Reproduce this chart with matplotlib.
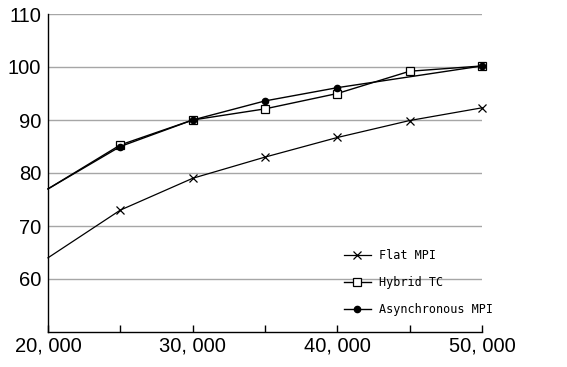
import matplotlib
matplotlib.use("Agg")
import matplotlib.pyplot as plt
from matplotlib.ticker import FixedLocator, FixedFormatter

x_all = [20000, 25000, 30000, 35000, 40000, 45000, 50000]
flat_mpi = [64.0, 73.0, 79.0, 83.0, 86.7, 89.9, 92.3]
hybrid_tc = [77.0, 85.3, 90.0, 92.1, 95.0, 99.2, 100.2]
x_async = [20000, 25000, 30000, 35000, 40000, 50000]
async_mpi = [77.0, 85.0, 90.0, 93.6, 96.1, 100.2]

x_ticks = [20000, 25000, 30000, 35000, 40000, 45000, 50000]
x_tick_labels = ["20, 000", "", "30, 000", "", "40, 000", "", "50, 000"]
y_ticks = [60, 70, 80, 90, 100, 110]

sans = ['Liberation Sans', 'DejaVu Sans']
mono = ['DejaVu Sans Mono', 'Liberation Mono']

fig = plt.figure(figsize=(5.67, 3.67), dpi=100)
ax = fig.add_axes([48/567, 1-332/367, (482-48)/567, (332-14)/367])

for y in y_ticks:
    ax.axhline(y, color='#a6a6a6', lw=1.0, zorder=0)

ax.plot(x_all, flat_mpi, color='black', lw=0.9, marker='x', ms=5.5, mew=0.9,
        markevery=list(range(1, len(x_all))), label='Flat MPI', zorder=3,
        clip_on=False)
ax.plot(x_all, hybrid_tc, color='black', lw=1.0, marker='s', ms=5.5, mew=0.9,
        mfc='white', mec='black',
        markevery=list(range(1, len(x_all))), label='Hybrid TC', zorder=3,
        clip_on=False)
ax.plot(x_async, async_mpi, color='black', lw=1.0, marker='o', ms=4.5,
        mfc='black', mec='black',
        markevery=list(range(1, len(x_async))), label='Asynchronous MPI', zorder=4,
        clip_on=False)

ax.set_xlim(20000, 50000)
ax.set_ylim(50, 110)
ax.xaxis.set_major_locator(FixedLocator(x_ticks))
ax.xaxis.set_major_formatter(FixedFormatter(x_tick_labels))
ax.yaxis.set_major_locator(FixedLocator(y_ticks))

for s in ['top', 'right']:
    ax.spines[s].set_visible(False)
for s in ['left', 'bottom']:
    ax.spines[s].set_color('black')
    ax.spines[s].set_linewidth(1.0)

ax.tick_params(axis='x', direction='in', length=5, width=1.0, pad=3)
ax.tick_params(axis='y', length=0, pad=5)
for lbl in ax.get_xticklabels():
    lbl.set_family(sans)
    lbl.set_fontsize(14.5)
for lbl in ax.get_yticklabels():
    lbl.set_family(sans)
    lbl.set_fontsize(14.5)

leg = ax.legend(loc='upper left', bbox_to_anchor=(338/567, 1-243/367),
                bbox_transform=fig.transFigure, frameon=False,
                prop={'family': mono, 'size': 8.5}, handlelength=2.3,
                handletextpad=0.65, labelspacing=1.2, borderpad=0)

fig.savefig('out.png', dpi=100)
